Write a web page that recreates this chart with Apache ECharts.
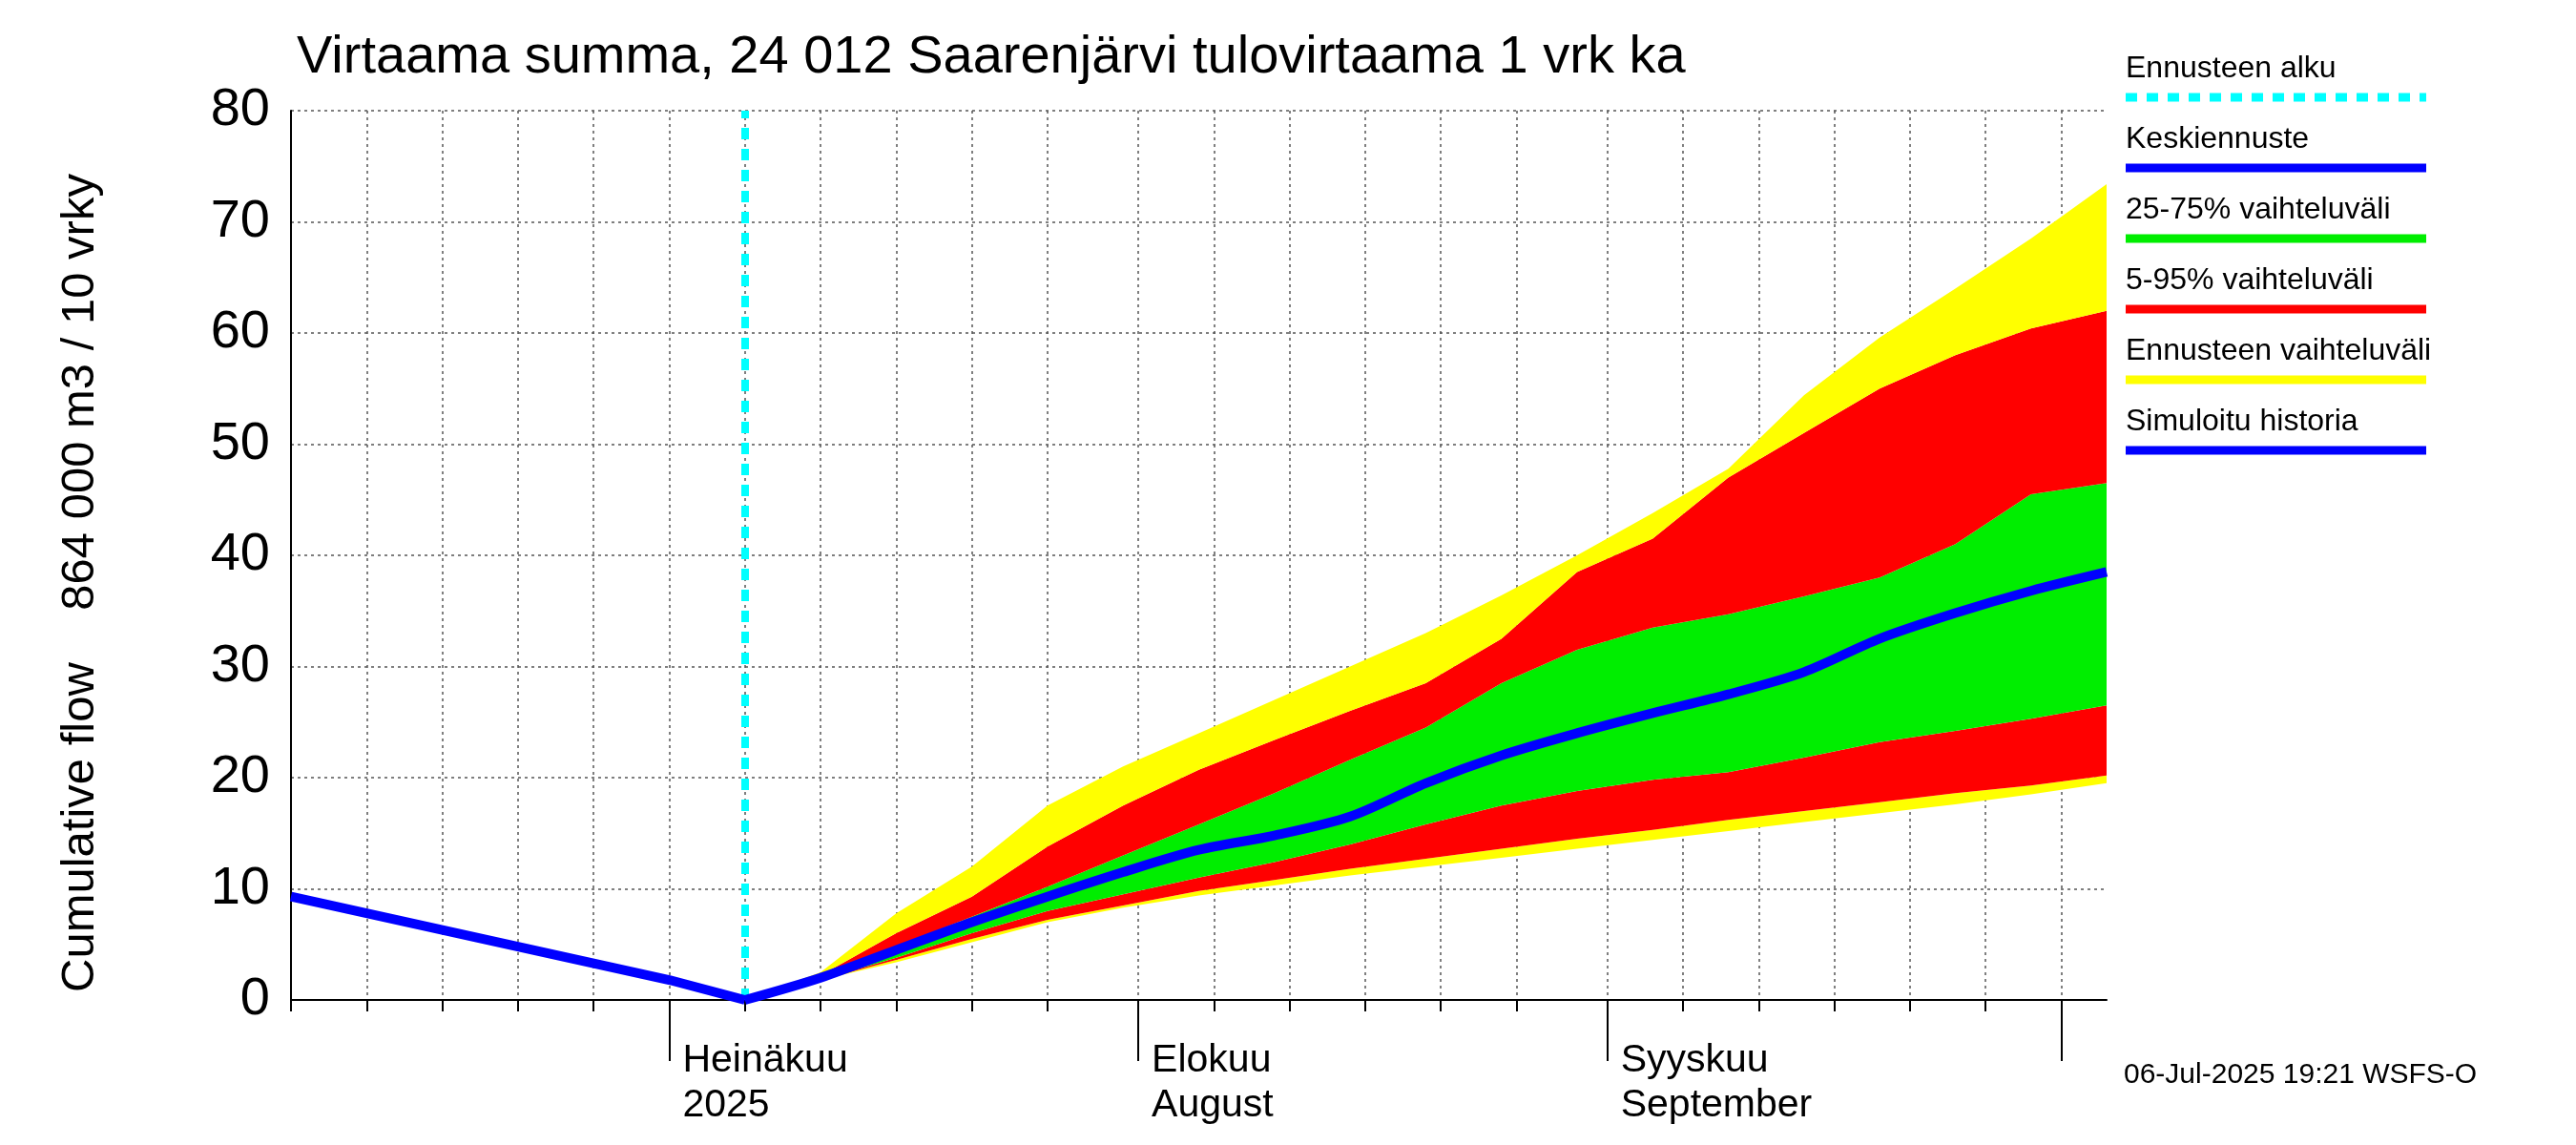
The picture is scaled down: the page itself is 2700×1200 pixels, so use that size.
<!DOCTYPE html>
<html><head><meta charset="utf-8">
<script src="https://cdn.jsdelivr.net/npm/echarts@6/dist/echarts.min.js"></script>
<style>html,body{margin:0;padding:0;background:#fff}#c{width:2700px;height:1200px}</style>
</head><body><div id="c"></div>
<script>
// ---- data ----
const histDates = ['2025-06-06','2025-06-11','2025-06-16','2025-06-21','2025-06-26','2025-07-01','2025-07-06'];
const histValues = [9.3,7.8,6.3,4.8,3.3,1.8,0];
const fcDates = ['2025-07-06','2025-07-11','2025-07-16','2025-07-21','2025-07-26','2025-07-31','2025-08-05','2025-08-10','2025-08-15','2025-08-20','2025-08-25','2025-08-30','2025-09-04','2025-09-09','2025-09-14','2025-09-19','2025-09-24','2025-09-29','2025-10-04'];
const yellowLow = [0,1.8,3.4,5.2,7.0,8.3,9.4,10.3,11.2,12.0,12.8,13.6,14.4,15.2,16.0,16.8,17.6,18.5,19.5];
const redLow    = [0,1.8,3.6,5.5,7.2,8.5,9.8,10.8,11.8,12.7,13.6,14.5,15.3,16.2,17.0,17.8,18.6,19.3,20.2];
const greenLow  = [0,1.8,3.8,6.0,8.0,9.5,11.0,12.4,14.0,15.8,17.5,18.8,19.8,20.5,21.8,23.2,24.2,25.3,26.5];
const median    = [0,2.0,4.5,7.0,9.3,11.5,13.5,14.8,16.5,19.5,22.0,24.0,25.8,27.5,29.5,32.5,34.8,36.8,38.5];
const greenHigh = [0,2.0,4.8,7.5,10.2,13.0,15.8,18.6,21.6,24.5,28.5,31.5,33.5,34.7,36.3,38.0,41.0,45.5,46.5];
const redHigh   = [0,2.2,6.0,9.3,13.8,17.5,20.7,23.4,26.0,28.5,32.5,38.5,41.5,47.0,51.0,55.0,58.0,60.4,62.0];
const yellowHigh= [0,2.5,7.8,12.0,17.5,21.0,24.0,27.0,30.0,33.0,36.4,40.0,43.8,47.8,54.4,59.6,64.0,68.5,73.4];
const forecastStart = '2025-07-06';
const yTicks = [0,10,20,30,40,50,60,70,80];
const monthLabels = {'07':'Heinäkuu\n2025','08':'Elokuu\nAugust','09':'Syyskuu\nSeptember'};
const legendItems = [
 ['Ennusteen alku','#00ffff','dashed'],['Keskiennuste','#0000ff','solid'],['25-75% vaihteluväli','#00ee00','solid'],
 ['5-95% vaihteluväli','#ff0000','solid'],['Ennusteen vaihteluväli','#ffff00','solid'],['Simuloitu historia','#0000ff','solid']];

const cats = [];
for (let d = new Date(Date.UTC(2025,5,6)); d <= new Date(Date.UTC(2025,9,4)); d.setUTCDate(d.getUTCDate()+1)) cats.push(d.toISOString().slice(0,10));
const dayOf = s => +s.slice(8,10);
const gridDay = (i,v) => [1,6,11,16,21,26].includes(dayOf(v));
const monthDay = (i,v) => dayOf(v)===1;

const pairs = (arr) => fcDates.map((d,i)=>[d,arr[i]]);
const diff = (a,b) => fcDates.map((d,i)=>[d, +(a[i]-b[i]).toFixed(3)]);
const band = (name,data,color) => ({type:'line',name,stack:'b',data,symbol:'none',lineStyle:{width:0},areaStyle:color?{color,opacity:1}:{opacity:0},z:2});
const F = 'Liberation Sans';
const chart = echarts.init(document.getElementById('c'));
const graphics = [];
legendItems.forEach((it,i)=>{
  const ty = 72 + i*74;
  graphics.push({type:'text',left:2228,top:ty-16,style:{text:it[0],font:'32px "Liberation Sans"',fill:'#000'}});
  graphics.push({type:'line',shape:{x1:2228,y1:ty+30,x2:2543,y2:ty+30},style:{stroke:it[1],lineWidth:9,lineDash:it[2]==='dashed'?[12,10]:null}});
});
graphics.push({type:'text',left:2226,top:1112,style:{text:'06-Jul-2025 19:21 WSFS-O',font:'30px "Liberation Sans"',fill:'#000'}});
graphics.push({type:'text',x:60,y:1040,rotation:Math.PI/2,style:{text:'Cumulative flow    864 000 m3 / 10 vrky',font:'49px "Liberation Sans"',fill:'#000',textAlign:'left',textVerticalAlign:'top'}});
chart.setOption({
  animation:false,
  title:{text:'Virtaama summa, 24 012 Saarenjärvi tulovirtaama 1 vrk ka',left:306,top:28,textStyle:{fontFamily:F,fontWeight:'normal',fontSize:56,color:'#000'}},
  grid:{left:305,top:116,width:1903,height:932},
  xAxis:[{type:'category',data:cats,boundaryGap:false,
    axisLine:{lineStyle:{color:'#000',width:2}},
    axisTick:{interval:gridDay,length:12,lineStyle:{color:'#000',width:2}},
    axisLabel:{interval:monthDay,formatter:v=>monthLabels[v.slice(5,7)]||'',align:'left',margin:40,padding:[0,0,0,14],fontFamily:F,fontSize:41,color:'#000',lineHeight:47},
    splitLine:{show:true,interval:gridDay,lineStyle:{color:'#555',type:[3,4],width:1.5}}},
   {type:'category',data:cats,boundaryGap:false,position:'bottom',axisLine:{show:false},
    axisTick:{interval:monthDay,length:64,lineStyle:{color:'#000',width:2}},axisLabel:{show:false},splitLine:{show:false}}],
  yAxis:{type:'value',min:0,max:80,interval:10,
    axisLine:{show:true,lineStyle:{color:'#000',width:2}},
    axisTick:{inside:true,length:45,lineStyle:{color:'#000',width:2}},
    axisLabel:{fontFamily:F,fontSize:56,color:'#000',margin:22,formatter:v=>yTicks.includes(v)?String(v):''},
    splitLine:{lineStyle:{color:'#555',type:[3,4],width:1.5}}},
  graphic:graphics,
  series:[
    band('base',pairs(yellowLow),null),
    band('y1',diff(redLow,yellowLow),'#ffff00'),
    band('r1',diff(greenLow,redLow),'#ff0000'),
    band('g',diff(greenHigh,greenLow),'#00ee00'),
    band('r2',diff(redHigh,greenHigh),'#ff0000'),
    band('y2',diff(yellowHigh,redHigh),'#ffff00'),
    {type:'line',name:'median',data:pairs(median),symbol:'none',smooth:0.3,lineStyle:{color:'#0000ff',width:10},z:5},
    {type:'line',name:'hist',data:histDates.map((d,i)=>[d,histValues[i]]),symbol:'none',lineStyle:{color:'#0000ff',width:10},z:5,
     markLine:{symbol:'none',silent:true,label:{show:false},lineStyle:{color:'#00ffff',width:8,type:[12,10]},data:[{xAxis:forecastStart}]}}
  ]
});
</script></body></html>
